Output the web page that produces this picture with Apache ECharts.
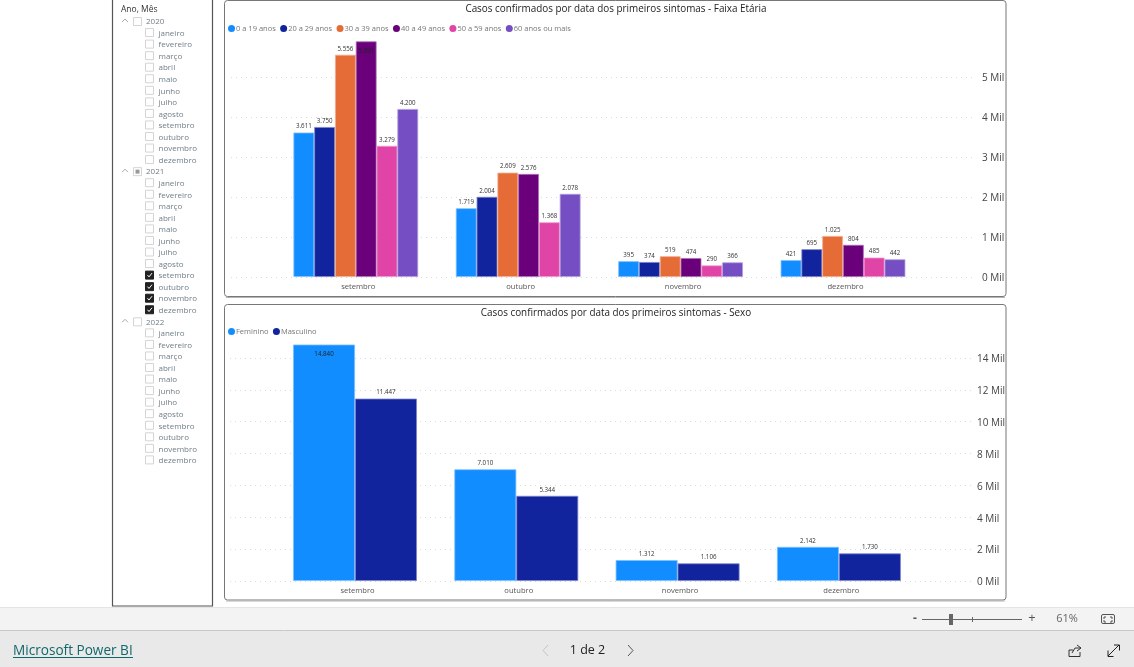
<!DOCTYPE html>
<html><head><meta charset="utf-8">
<style>html,body{margin:0;padding:0;background:#fff}#c{width:1134px;height:667px}</style>
<script src="https://cdn.jsdelivr.net/npm/echarts@6/dist/echarts.min.js"></script></head>
<body><div id="c"></div>
<script>
const months = ['setembro','outubro','novembro','dezembro'];
const ageNames = ['0 a 19 anos','20 a 29 anos','30 a 39 anos','40 a 49 anos','50 a 59 anos','60 anos ou mais'];
const age0 = [3611,1719,395,421];
const age1 = [3750,2004,374,695];
const age2 = [5556,2609,519,1025];
const age3 = [5891,2576,474,804];
const age4 = [3279,1368,290,485];
const age5 = [4200,2078,366,442];
const sexNames = ['Feminino','Masculino'];
const female = [14840,7010,1312,2142];
const male = [11447,5344,1106,1730];
const ageColors = ['#118DFF','#12239E','#E66C37','#6B007B','#E044A7','#744EC2'];
const sexColors = ['#118DFF','#12239E'];
const title1 = 'Casos confirmados por data dos primeiros sintomas - Faixa Etária';
const title2 = 'Casos confirmados por data dos primeiros sintomas - Sexo';
const slicerTitle = 'Ano, Mês';
const slicerYears = ['2020','2021','2022'];
const slicerMonths = ['janeiro','fevereiro','março','abril','maio','junho','julho','agosto','setembro','outubro','novembro','dezembro'];
const slicerChecked = {'2021':['setembro','outubro','novembro','dezembro']};

const font = '"Open Sans","Noto Sans",sans-serif';
const dot = v => String(v).replace(/\B(?=(\d{3})+$)/g,'.');
const mil = v => v/1000 + ' Mil';
const tint = (hex,a) => 'rgb('+[1,3,5].map(i=>Math.round(parseInt(hex.substr(i,2),16)*(1-a)+255*a)).join(',')+')';

function barSeries(name,data,color,xi,yi,insideOver){
  return {name,type:'bar',xAxisIndex:xi,yAxisIndex:yi,barGap:0,barCategoryGap:'23.2%',
    itemStyle:{color,borderColor:tint(color,0.45),borderWidth:0.8},
    label:{show:true,position:'top',distance:3,fontFamily:font,fontSize:6.2,color:'#333',formatter:p=>dot(p.value)},
    data:data.map(v=>v>=insideOver?{value:v,label:{position:'insideTop',distance:7,color:'#222'}}:v)};
}
function valueAxis(g,max,interval,show,margin){
  return {type:'value',gridIndex:g,position:'right',min:0,max,interval,show,
    axisLine:{show:false},axisTick:{show:false},
    splitLine:{show,showMaxLine:false,lineStyle:{color:'#dadada',type:[1,4],width:1}},
    axisLabel:{show,margin,align:'left',verticalAlign:'top',lineHeight:3,fontFamily:font,fontSize:10,color:'#444',formatter:v=>v%interval===0?mil(v):'',showMaxLabel:false}};
}
function catAxis(g,margin){
  return {type:'category',gridIndex:g,data:months,axisLine:{show:false},axisTick:{show:false},
    axisLabel:{margin,padding:[0,0,0,5],fontFamily:font,fontSize:7.6,color:'#555'}};
}
const plainX = g => ({type:'value',gridIndex:g,show:false,min:0,max:1});

const gfx = [];
const rect=(x,y,w,h,s)=>gfx.push({type:'rect',silent:true,shape:{x,y,width:w,height:h,r:s.r||0},style:{fill:s.fill||'none',stroke:s.stroke||'none',lineWidth:s.lw||1}});
const txt=(x,y,t,size,fill,align,extra)=>gfx.push({type:'text',silent:true,x,y,style:Object.assign({text:t,fontFamily:font,fontSize:size,fill,align:align||'left',verticalAlign:'middle'},extra||{})});
const line=(pts,stroke,lw)=>gfx.push({type:'polyline',silent:true,shape:{points:pts},style:{fill:'none',stroke,lineWidth:lw||1}});

// footer bands
rect(0,607,1134,24,{fill:'#f3f3f3'});
rect(0,631,1134,36,{fill:'#e9e9e9'});
line([[0,607.5],[1134,607.5]],'#e4e4e4');
line([[0,630.5],[1134,630.5]],'#c8c8c8');
// panels
rect(112.5,-1,100,607,{stroke:'#555',lw:1.2});
rect(224.5,0.5,781.5,296,{stroke:'#777',r:3});
rect(224.5,304.5,781.5,295.5,{stroke:'#777',r:3});
line([[226,297.5],[1005,297.5]],'#b5b5b5');
line([[226,601],[1005,601]],'#b5b5b5');
// slicer
txt(121,9.5,slicerTitle,8.5,'#333');
const rowH=11.55; let row=0;
slicerYears.forEach(y=>{
  const yy=21+rowH*row++;
  line([[122,yy+1],[125,yy-2],[128,yy+1]],'#aaa');
  rect(133.5,yy-3.5,8,8,{stroke:'#d4d4d4',fill:'#fff'});
  if(slicerChecked[y]) rect(135.5,yy-1.5,4,4,{fill:'#999'});
  txt(146,yy+1,y,8,'#6f7e88');
  slicerMonths.forEach(m=>{
    const my=21+rowH*row++;
    const on=(slicerChecked[y]||[]).includes(m);
    rect(145.5,my-4,8,8,on?{fill:'#222',stroke:'#222'}:{stroke:'#d4d4d4',fill:'#fff'});
    if(on) line([[147.5,my],[149,my+1.8],[152,my-2]],'#fff');
    txt(158.5,my+1,m,8,'#6f7e88');
  });
});
// footer content
txt(13,651.5,'Microsoft Power BI',13.6,'#11686b');
line([[13,657.5],[133,657.5]],'#11686b');
line([[548,645],[543,650.5],[548,656]],'#c4c4c4');
txt(587.5,650,'1 de 2',12.5,'#222','center',{fontWeight:500});
line([[628,645],[633,650.5],[628,656]],'#555');
txt(915,618.5,'-',12,'#555','center',{fontWeight:'bold'});
line([[922,619.5],[1022,619.5]],'#666');
line([[972.5,617],[972.5,622]],'#666');
rect(949,614,4,11,{fill:'#666'});
txt(1032,618.5,'+',13,'#555','center');
txt(1067,619,'61%',11,'#666','center');
rect(1101.5,614.5,13,9,{stroke:'#555',r:1.5});
line([[1104,619],[1104,617],[1106,617]],'#555');
line([[1110,617],[1112,617],[1112,619]],'#555');
line([[1104,620],[1104,622],[1106,622]],'#555');
line([[1110,622],[1112,622],[1112,620]],'#555');
line([[1073,650],[1069,650],[1069,656.5],[1080,656.5],[1080,652]],'#333');
line([[1072,653],[1075,648],[1081,648]],'#333');
line([[1077,645],[1081,648],[1077,651]],'#333');
line([[1108,656],[1119,645]],'#222');
line([[1114,645],[1119.5,645],[1119.5,650.5]],'#222');
line([[1108,650.5],[1108,656.5],[1113.5,656.5]],'#222');

const chartTitle=(t,y)=>({text:t,left:611,top:y,textAlign:'center',textStyle:{fontFamily:font,fontSize:9.9,fontWeight:'normal',color:'#222'}});
const legendCfg=(data,top)=>({data,left:228,top,icon:'circle',itemWidth:7,itemHeight:7,itemGap:4.4,padding:0,selectedMode:false,
  itemStyle:{borderWidth:0},
  textStyle:{fontFamily:font,fontSize:7.5,color:'#777',padding:[0,0,0,-4]}});

const option={
  animation:false,
  color:ageColors,
  title:[chartTitle(title1,-0.5),chartTitle(title2,303)],
  legend:[legendCfg(ageNames,24.5),legendCfg(sexNames,327.5)],
  grid:[
    {left:231,width:743,top:41,height:236},
    {left:274.6,width:649.6,top:41,height:236},
    {left:230,width:742,top:343.6,height:237.4},
    {left:274.35,width:645.2,top:343.6,height:237.4}
  ],
  xAxis:[plainX(0),catAxis(1,6),plainX(2),catAxis(3,5.5)],
  yAxis:[valueAxis(0,5900,1000,true,8),valueAxis(1,5900,1000,false,8),valueAxis(2,14900,2000,true,5),valueAxis(3,14900,2000,false,5)],
  series:[
    ...[age0,age1,age2,age3,age4,age5].map((d,i)=>barSeries(ageNames[i],d,ageColors[i],1,1,5800)),
    barSeries(sexNames[0],female,sexColors[0],3,3,14000),
    barSeries(sexNames[1],male,sexColors[1],3,3,14000)
  ],
  graphic:gfx
};
echarts.init(document.getElementById('c')).setOption(option);
</script></body></html>
